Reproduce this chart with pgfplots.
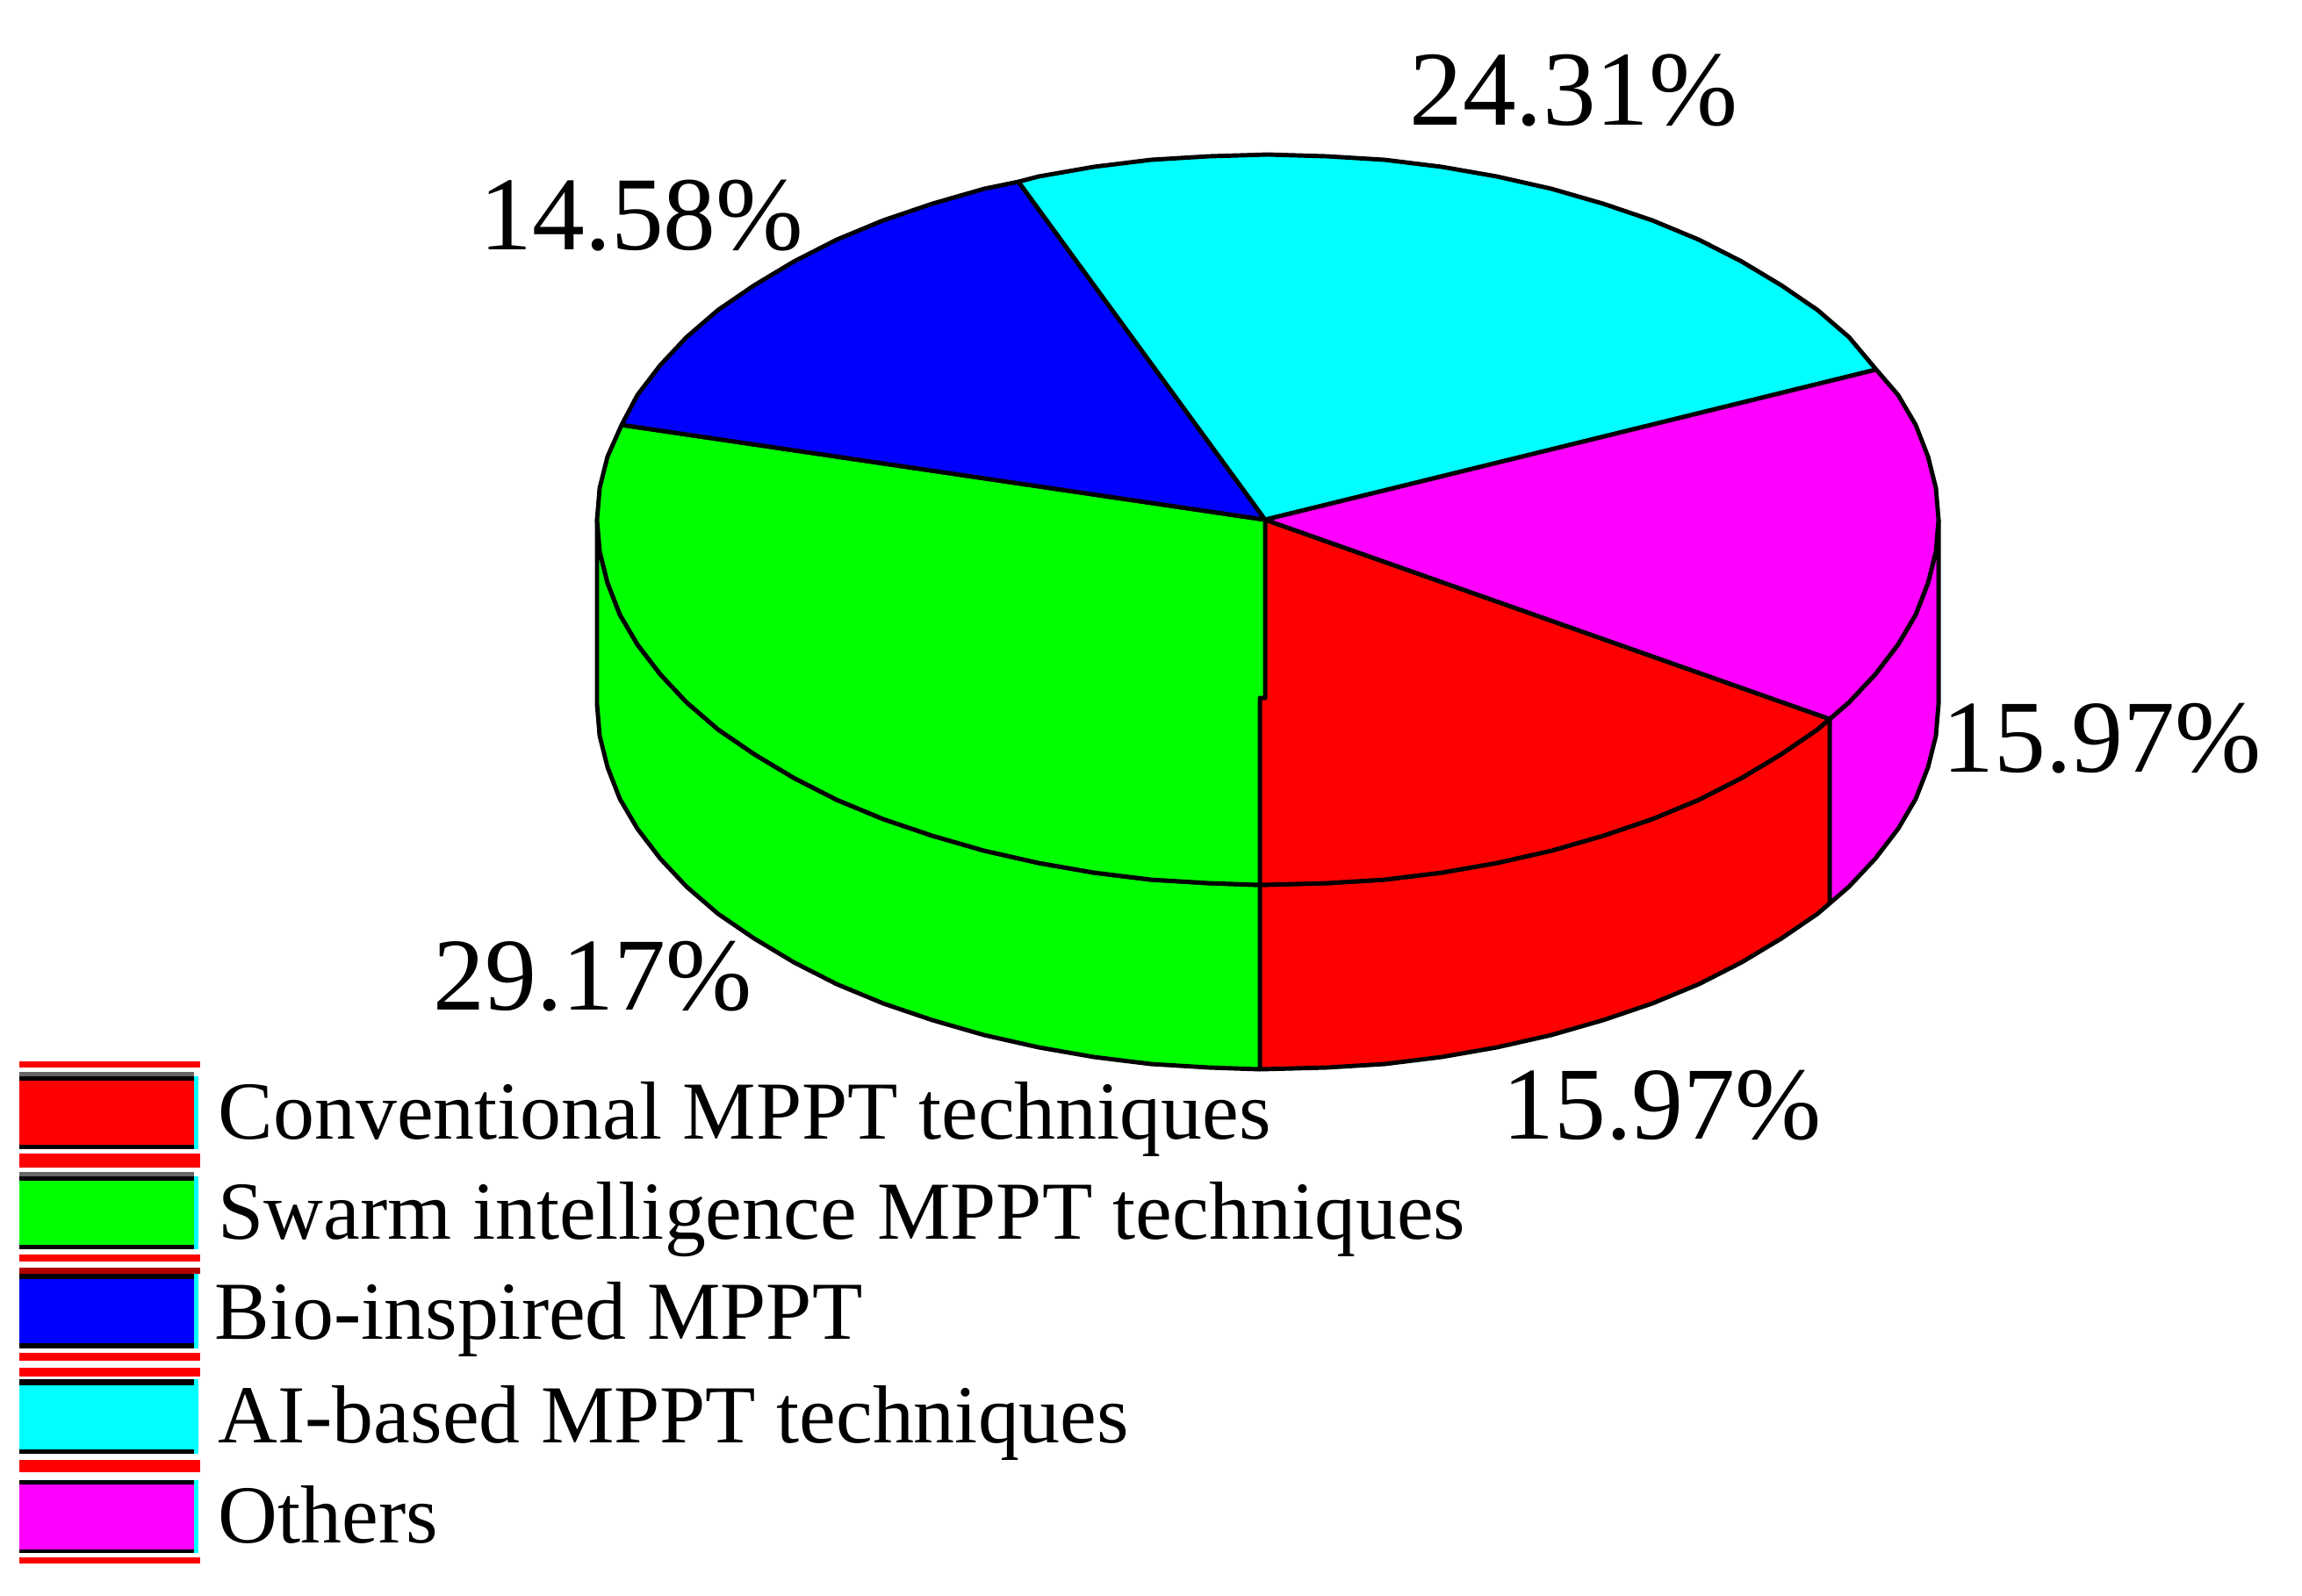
\documentclass[border=0pt]{standalone}
\usepackage{fontspec}
\setmainfont{Liberation Serif}
\usepackage{pgfplots}
\pgfplotsset{compat=1.18}
\definecolor{pureRed}{RGB}{255,0,0}
\definecolor{pureGreen}{RGB}{0,255,0}
\definecolor{pureBlue}{RGB}{0,0,255}
\definecolor{pureCyan}{RGB}{0,255,255}
\definecolor{pureMagenta}{RGB}{255,0,255}

% legend swatch pieces: x0, y0, x1, y1, colour
\newcommand{\rect}[5]{\addplot[fill=#5,draw=none,forget plot] coordinates {(#1,#2)(#3,#2)(#3,#4)(#1,#4)} --cycle;}
\newcommand{\pct}[4][33.5]{\node[anchor=base west,inner sep=0pt,font=\fontsize{#1}{40}\selectfont] at (axis cs:#2,#3) {#4\%};}
\newcommand{\leg}[3]{\node[anchor=base west,inner sep=0pt,font=\fontsize{26.7}{32}\selectfont] at (axis cs:#1,#2) {#3};}

\begin{document}
\begin{tikzpicture}
\begin{axis}[
  width=26.22cm, height=18.17cm, scale only axis,
  xmin=0, xmax=2622, ymin=0, ymax=1817,
  y dir=reverse,
  hide axis, clip=false,
  every axis plot/.append style={line width=1.4pt, line join=round},
]
\rect{0}{0}{2622}{1817}{white}

% sides of the disc
\addplot[fill=pureMagenta,draw=black] coordinates {
  (2208,592)(2205,628)(2196,664)(2182,700)(2162,734)(2136,768)(2106,800)(2084,819)
  (2084,1029)(2106,1010)(2136,978)(2162,944)(2182,910)(2196,874)(2205,838)(2208,802)} --cycle;
\addplot[fill=pureRed,draw=black] coordinates {
  (2084,819)(2070,831)(2029,859)(1984,886)(1935,911)(1882,933)(1826,952)(1767,969)(1705,983)(1642,994)(1577,1002)(1511,1006)(1435,1008)
  (1435,1218)(1511,1216)(1577,1212)(1642,1204)(1705,1193)(1767,1179)(1826,1162)(1882,1143)(1935,1121)(1984,1096)(2029,1069)(2070,1041)(2084,1029)} --cycle;
\addplot[fill=pureGreen,draw=black] coordinates {
  (1435,1008)(1377,1006)(1311,1002)(1246,994)(1183,983)(1121,969)(1062,952)(1006,933)(953,911)(904,886)(859,859)(818,831)(782,800)(752,768)(726,734)(706,700)(692,664)(683,628)(680,592)
  (680,802)(683,838)(692,874)(706,910)(726,944)(752,978)(782,1010)(818,1041)(859,1069)(904,1096)(953,1121)(1006,1143)(1062,1162)(1121,1179)(1183,1193)(1246,1204)(1311,1212)(1377,1216)(1435,1218)} --cycle;

% top face
\addplot[fill=pureRed,draw=black] coordinates {
  (1441,592)(2084,819)(2070,831)(2029,859)(1984,886)(1935,911)(1882,933)(1826,952)(1767,969)(1705,983)(1642,994)(1577,1002)(1511,1006)(1435,1008)(1435,795)(1441,795)} --cycle;
\addplot[fill=pureGreen,draw=black] coordinates {
  (1441,592)(1441,795)(1435,795)(1435,1008)(1377,1006)(1311,1002)(1246,994)(1183,983)(1121,969)(1062,952)(1006,933)(953,911)(904,886)(859,859)(818,831)(782,800)(752,768)(726,734)(706,700)(692,664)(683,628)(680,592)(683,556)(692,520)(708,484)} --cycle;
\addplot[fill=pureBlue,draw=black] coordinates {
  (1441,592)(708,484)(726,450)(752,416)(782,384)(818,353)(859,325)(904,298)(953,273)(1006,251)(1062,232)(1121,215)(1160,207)} --cycle;
\addplot[fill=pureCyan,draw=black] coordinates {
  (1441,592)(1160,207)(1183,201)(1246,190)(1311,182)(1377,178)(1444,176)(1511,178)(1577,182)(1642,190)(1705,201)(1767,215)(1826,232)(1882,251)(1935,273)(1984,298)(2029,325)(2070,353)(2106,384)(2137,421)} --cycle;
\addplot[fill=pureMagenta,draw=black] coordinates {
  (1441,592)(2137,421)(2162,450)(2182,484)(2196,520)(2205,556)(2208,592)(2205,628)(2196,664)(2182,700)(2162,734)(2136,768)(2106,800)(2084,819)} --cycle;

% legend stripes
\rect{22}{1209}{228}{1216}{pureRed}
\rect{22}{1221}{221}{1226}{black!60}
\rect{22}{1314}{228}{1330}{pureRed}
\rect{22}{1335}{221}{1340}{black!60}
\rect{22}{1429}{228}{1437}{pureRed}
\rect{22}{1444}{228}{1451}{pureRed!70!black}
\rect{22}{1541}{228}{1550}{pureRed}
\rect{22}{1558}{228}{1568}{pureRed}
\rect{22}{1663}{228}{1677}{pureRed}
\rect{22}{1774}{228}{1781}{pureRed}
\rect{221}{1226}{226}{1309}{pureCyan}
\rect{221}{1340}{226}{1423}{pureCyan}
\rect{221}{1451}{226}{1536}{pureCyan}
\rect{221}{1571}{226}{1656}{pureCyan}
\rect{221}{1686}{226}{1769}{pureCyan}

% legend swatches with their black bars
\rect{22}{1226}{221}{1309}{black}
\rect{22}{1231}{221}{1304}{pureRed}
\rect{22}{1340}{221}{1423}{black}
\rect{22}{1345}{221}{1418}{pureGreen}
\rect{22}{1451}{221}{1536}{black}
\rect{22}{1457}{221}{1530}{pureBlue}
\rect{22}{1571}{221}{1656}{black}
\rect{22}{1578}{221}{1651}{pureCyan}
\rect{22}{1686}{221}{1769}{black}
\rect{22}{1691}{221}{1765}{pureMagenta}

% legend text
\leg{248}{1297}{Conventional MPPT techniques}
\leg{248}{1411}{Swarm intelligence MPPT techniques}
\leg{244}{1525}{Bio-inspired MPPT}
\leg{248}{1643}{AI-based MPPT techniques}
\leg{248}{1757}{Others}

% percentage labels
\pct[34.5]{1605}{142}{24.31}
\pct[34]{546}{284}{14.58}
\pct{2212}{879}{15.97}
\pct{1711}{1297}{15.97}
\pct{493}{1150}{29.17}
\end{axis}
\end{tikzpicture}
\end{document}
